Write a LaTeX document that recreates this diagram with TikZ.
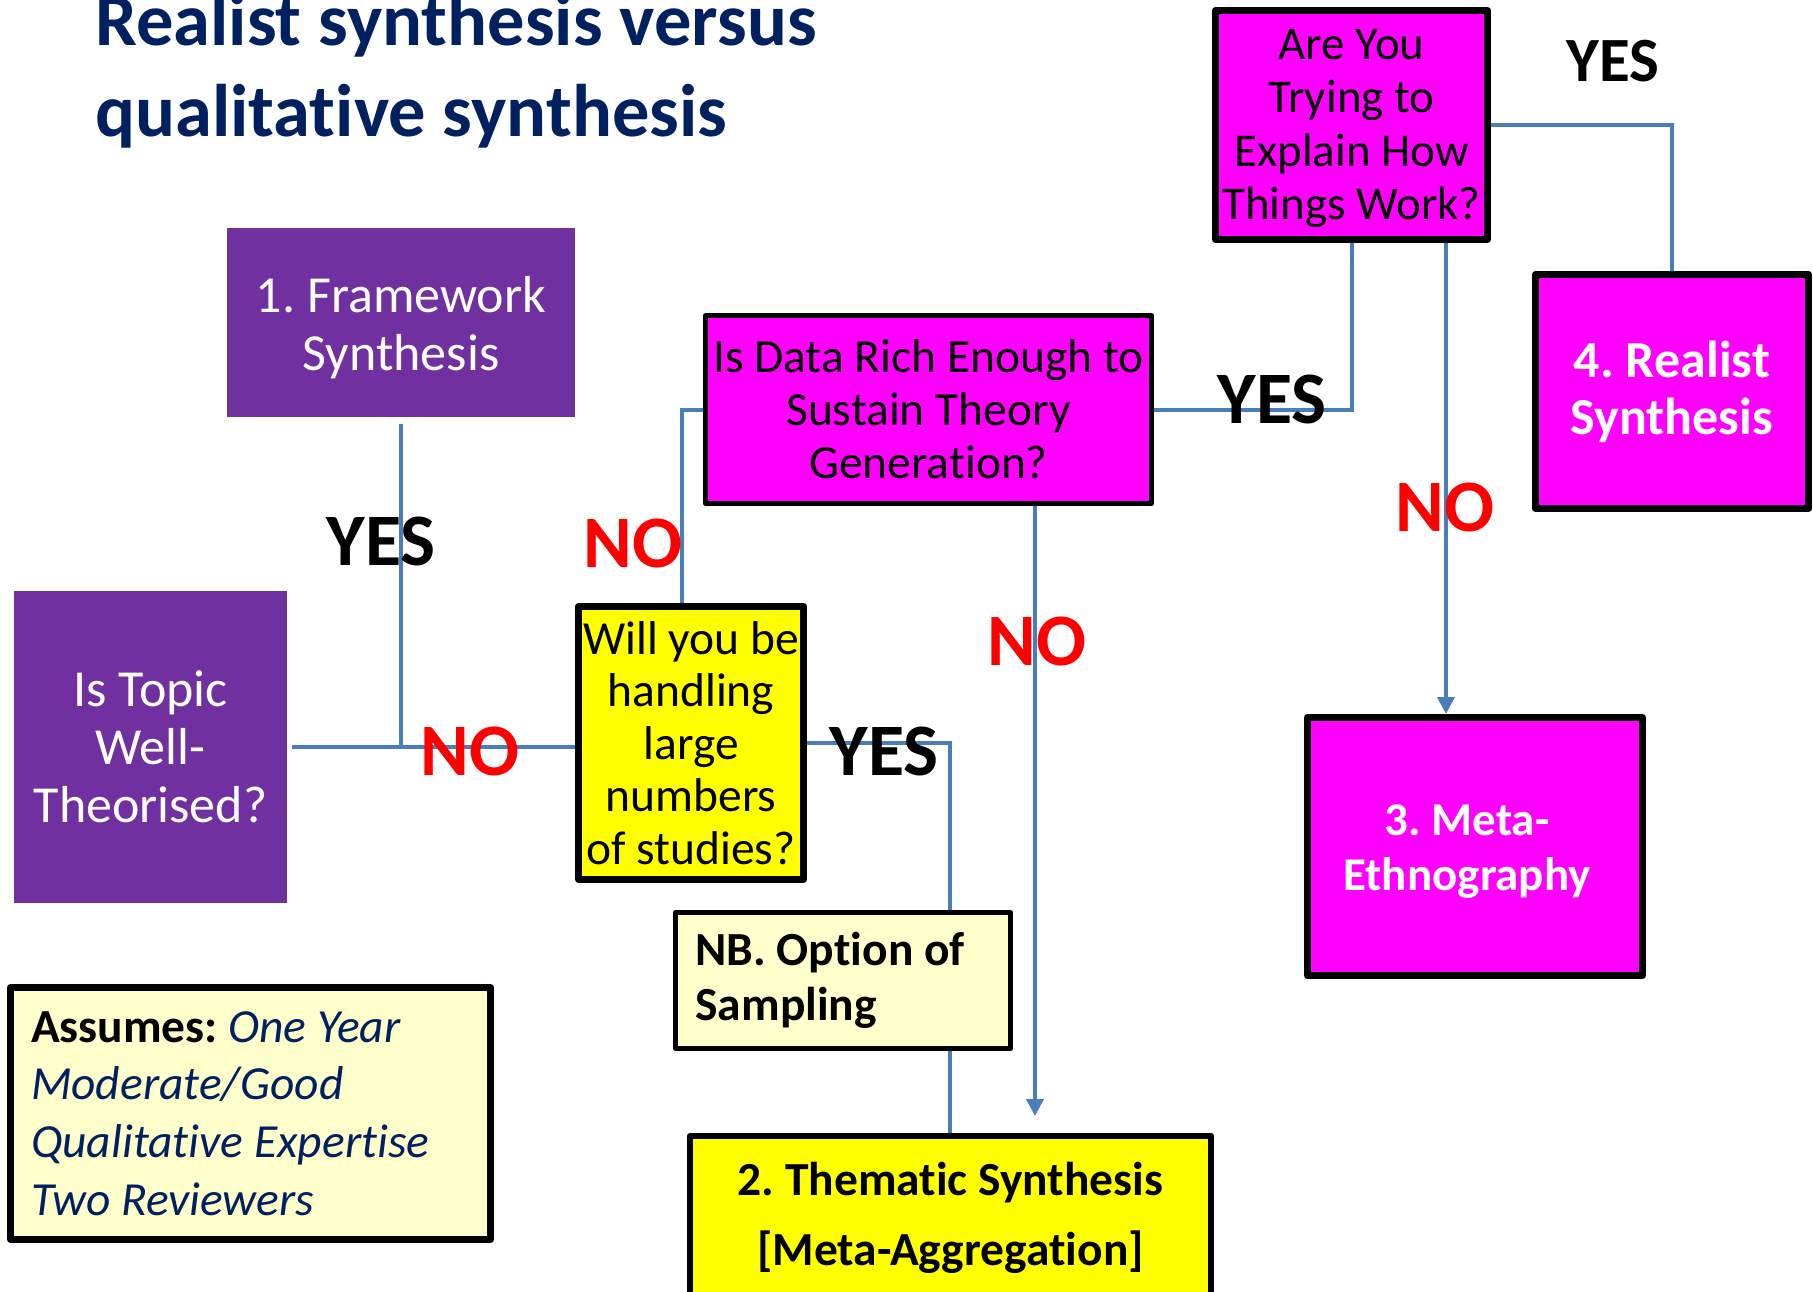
\documentclass[tikz,border=0pt]{standalone}
\usepackage{fontspec}
\setmainfont{Carlito}[Ligatures={NoCommon,NoContextual,NoRare},Contextuals=NoAlternate]
\usetikzlibrary{arrows.meta}
\definecolor{lblue}{HTML}{4A7EBB}
\definecolor{purp}{HTML}{7030A0}
\definecolor{mag}{HTML}{FF00FF}
\definecolor{yel}{HTML}{FFFF00}
\definecolor{lyel}{HTML}{FFFFCC}
\definecolor{navy}{HTML}{002060}
\definecolor{nored}{HTML}{FF0000}
\tikzset{
  purpbox/.style={fill=purp, inner sep=0pt},
  purptext/.style={text=white, inner sep=0pt, align=center, font=\fontsize{52}{58}\selectfont},
  blackbox/.style={draw=black, line join=round, inner sep=0pt, align=center},
  conn/.style={draw=lblue, line width=4pt},
  arr/.style={conn, -{Triangle[width=17pt,length=17pt]}},
  lbl/.style={anchor=base, inner sep=0pt, font=\fontsize{74}{80}\selectfont\bfseries},
  yeslbl/.style={lbl, text=black},
  nolbl/.style={lbl, text=nored},
}
\begin{document}
\frenchspacing
\begin{tikzpicture}[x=1pt,y=-1pt]
\useasboundingbox (0,0) rectangle (1813,1292);
\fill[white] (0,0) rectangle (1813,1292);

% title
\node[anchor=base west, inner sep=0pt, text=navy, font=\fontsize{74.5}{90}\selectfont\bfseries] (title1) at (95,46) {Realist synthesis versus};
\node[anchor=base west, inner sep=0pt, text=navy, font=\fontsize{74.5}{90}\selectfont\bfseries] (title2) at (95,137) {qualitative synthesis};

% boxes
\node[purpbox, minimum width=348pt, minimum height=189pt] (frame) at (401,322.5) {};
\node[purptext] (frametxt) at ([yshift=-5pt]frame.center) {1. Framework\\Synthesis};
\node[purpbox, minimum width=273pt, minimum height=312pt] (topic) at (150.5,747) {};
\node[purptext] (topictxt) at (topic.center) {Is Topic\\Well-\\Theorised?};

\node[blackbox, fill=mag, line width=7pt, minimum width=272pt, minimum height=229pt] (areyou) at (1351.5,125) {};
\node[inner sep=0pt, align=center, font=\fontsize{47}{53.3}\selectfont] (areyoutxt) at ([yshift=-3.5pt]areyou.center) {Are You\\Trying to\\Explain How\\Things Work?};
\node[blackbox, fill=mag, line width=5pt, minimum width=446pt, minimum height=188pt,
  font=\fontsize{47.5}{53}\selectfont] (data) at (928.5,409.5) {Is Data Rich Enough to\\Sustain Theory\\Generation?};
\node[blackbox, fill=mag, line width=7pt, minimum width=273pt, minimum height=234pt, text=white,
  font=\fontsize{52}{57}\selectfont\bfseries] (realist) at (1672,391.5) {4. Realist\\Synthesis};
\node[blackbox, fill=yel, line width=7pt, minimum width=225pt, minimum height=273pt,
  font=\fontsize{47.5}{52.5}\selectfont] (will) at (691,743) {Will you be\\handling\\large\\numbers\\of studies?};
\node[blackbox, fill=mag, line width=7pt, minimum width=335pt, minimum height=258pt] (meta) at (1475,846.5) {};
\node[inner sep=0pt, align=center, text=white, font=\fontsize{47}{55}\selectfont\bfseries] (metatxt) at ([xshift=-8pt,yshift=-5pt]meta.center) {3. Meta-\\Ethnography};
\node[blackbox, fill=lyel, line width=5pt, align=flush left, text width=295pt, inner xsep=20pt,
  minimum height=136pt, font=\fontsize{47.5}{55}\selectfont\bfseries] (nb) at (843,980.5) {NB. Option of\\Sampling};
\node[blackbox, fill=yel, line width=6pt, minimum width=521pt, minimum height=164pt,
  font=\fontsize{47.5}{70}\selectfont\bfseries] (them) at (950.5,1218) {2. Thematic Synthesis\\{[Meta-Aggregation]}};
\node[blackbox, fill=lyel, line width=7pt, align=flush left, text width=439pt, inner xsep=20.5pt,
  minimum height=252pt, font=\fontsize{47.5}{57.7}\selectfont] (assume) at (250.5,1113.5)
  {\textbf{Assumes:} \textcolor{navy}{\itshape One Year}\\
   \textcolor{navy}{\itshape Moderate/Good}\\
   \textcolor{navy}{\itshape Qualitative Expertise}\\
   \textcolor{navy}{\itshape Two Reviewers}};

% helper coordinates
\coordinate (xa) at (950,0);
\coordinate (xb) at (682,0);
\coordinate (xd) at (1446,0);
\coordinate (xe) at (1035,0);
\coordinate (thtip) at (1035,1116);

% connectors
\draw[conn] ([xshift=5pt]topic.east) -- (topic.east -| will.west);
\draw[conn] ([yshift=-7pt]frame.south) -- (frame.south |- topic.east);
\draw[conn] (will.north -| xb) |- (data.west);
\draw[conn] (data.east) -| (areyou.south);
\draw[conn] (areyou.east) -| (realist.north);
\draw[arr] (areyou.south -| xd) -- (meta.north -| xd);
\draw[arr] (data.south -| xe) -- (thtip);
\draw[conn] (will.east) -| (nb.north -| xa);
\draw[conn] (nb.south -| xa) -- (them.north -| xa);

% labels
\node[yeslbl] (y1) at (381,565) {YES};
\node[nolbl] (n1) at (633,567) {NO};
\node[nolbl] (n2) at (1037,665) {NO};
\node[nolbl] (n3) at (470,775) {NO};
\node[yeslbl] (y2) at (884,775) {YES};
\node[yeslbl] (y3) at (1272,423) {YES};
\node[nolbl] (n4) at (1445,531) {NO};
\node[yeslbl, font=\fontsize{63}{70}\selectfont\bfseries] (y4) at (1613,82) {YES};
\end{tikzpicture}
\end{document}
